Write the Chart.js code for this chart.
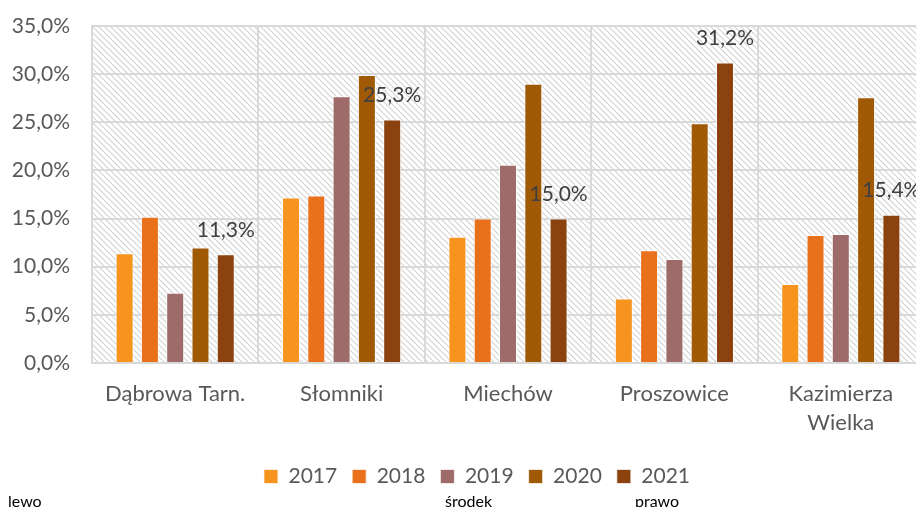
<!DOCTYPE html>
<html>
<head>
<meta charset="utf-8">
<script src="https://cdn.jsdelivr.net/npm/chart.js@4/dist/chart.umd.min.js"></script>
<style>
  html, body { margin: 0; padding: 0; background: #fff; overflow: hidden; }
  #wrap { position: relative; width: 916px; height: 507px; overflow: hidden; }
  #chart-canvas { position: absolute; left: 0; top: 0; }
  .note { position: absolute; font-family: Lato, sans-serif; font-size: 16px; color: #000; top: 491px; }
</style>
</head>
<body>
<div id="wrap">
  <canvas id="chart-canvas" width="930" height="507"></canvas>
  <span class="note" style="left:8px">lewo</span>
  <span class="note" style="left:445px">środek</span>
  <span class="note" style="left:635px">prawo</span>
</div>
<script>
'use strict';

/* DATA */
const categories = ['Dąbrowa Tarn.', 'Słomniki', 'Miechów', 'Proszowice', ['Kazimierza', 'Wielka']];
const years = ['2017', '2018', '2019', '2020', '2021'];
const values2017 = [11.4, 17.2, 13.1, 6.7, 8.2];
const values2018 = [15.2, 17.4, 15.0, 11.7, 13.3];
const values2019 = [7.3, 27.7, 20.6, 10.8, 13.4];
const values2020 = [12.0, 29.9, 29.0, 24.9, 27.6];
const values2021 = [11.3, 25.3, 15.0, 31.2, 15.4];
const yTicks = [0, 5, 10, 15, 20, 25, 30, 35];

const colors = ['#F7941D', '#EA711B', '#9E6A6A', '#A05A06', '#8B420E'];
const allValues = [values2017, values2018, values2019, values2020, values2021];

function pct(v) { return v.toFixed(1).replace('.', ',') + '%'; }

/* HATCHED BACKGROUND */
function makeHatch() {
  const c = document.createElement('canvas');
  c.width = 6; c.height = 6;
  const g = c.getContext('2d');
  g.strokeStyle = '#D4D4D4';
  g.lineWidth = 1.2;
  g.beginPath();
  g.moveTo(-1, -1); g.lineTo(7, 7);
  g.moveTo(-1, 5); g.lineTo(1, 7);
  g.moveTo(5, -1); g.lineTo(7, 1);
  g.stroke();
  return g.createPattern(c, 'repeat');
}

const hatchPlugin = {
  id: 'hatch',
  afterLayout(chart) {
    // legend sits a bit right of the canvas centre in the original
    chart.legend.left += 15;
    chart.legend.right += 15;
  },
  beforeDraw(chart) {
    const { ctx, chartArea: a } = chart;
    ctx.save();
    ctx.fillStyle = makeHatch();
    ctx.fillRect(a.left, a.top, a.right - a.left, a.bottom - a.top);
    ctx.restore();
  }
};

/* LABELS ON THE LAST SERIES */
const labelPlugin = {
  id: 'lastLabels',
  afterDatasetsDraw(chart) {
    const ctx = chart.ctx;
    const meta = chart.getDatasetMeta(4);
    ctx.save();
    ctx.font = '21px Lato, sans-serif';
    ctx.fillStyle = '#404040';
    ctx.textAlign = 'center';
    ctx.textBaseline = 'middle';
    meta.data.forEach((bar, i) => {
      ctx.fillText(pct(values2021[i]), bar.x, bar.y - 24);
    });
    ctx.restore();
  }
};

const ctx = document.getElementById('chart-canvas').getContext('2d');

new Chart(ctx, {
  type: 'bar',
  data: {
    labels: categories,
    datasets: years.map((y, i) => ({
      label: y,
      data: allValues[i],
      backgroundColor: colors[i],
      borderColor: 'rgba(255,255,255,0.7)',
      borderWidth: 1,
      barPercentage: 0.71,
      categoryPercentage: 0.76
    }))
  },
  options: {
    responsive: false,
    animation: false,
    layout: { padding: { left: 0, right: 6, top: 26, bottom: 10 } },
    plugins: {
      tooltip: { enabled: false },
      legend: {
        position: 'bottom',
        labels: {
          boxWidth: 14,
          boxHeight: 14,
          padding: 15,
          color: '#595959',
          font: { family: 'Lato', size: 21 }
        }
      }
    },
    scales: {
      x: {
        grid: { color: '#D9D9D9', lineWidth: 2, drawTicks: false },
        border: { color: '#D9D9D9', width: 2 },
        ticks: {
          color: '#595959',
          padding: 16,
          maxRotation: 0,
          font: { family: 'Lato', size: 22, lineHeight: 1.32 }
        },
        afterFit(scale) { scale.height = 88; }
      },
      y: {
        min: 0,
        max: 35,
        afterBuildTicks(scale) { scale.ticks = yTicks.map(v => ({ value: v })); },
        grid: { color: '#D9D9D9', lineWidth: 2, drawTicks: false },
        border: { color: '#D9D9D9', width: 2 },
        ticks: {
          color: '#595959',
          padding: 22,
          font: { family: 'Lato', size: 21 },
          callback: v => pct(v)
        },
        afterFit(scale) {
          scale.width = 92;
          scale.paddingTop = 0;
          scale.paddingBottom = 0;
        }
      }
    }
  },
  plugins: [hatchPlugin, labelPlugin]
});
</script>
</body>
</html>
